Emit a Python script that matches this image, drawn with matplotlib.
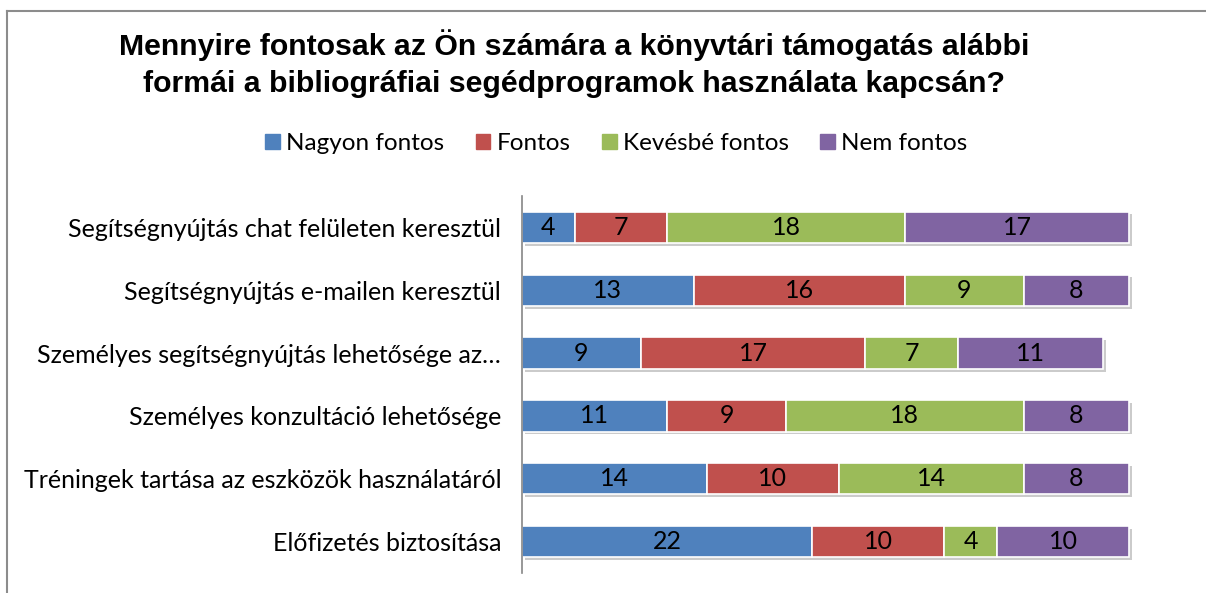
import matplotlib.pyplot as plt
import matplotlib.patheffects as pe
from matplotlib.lines import Line2D

categories = [
    "Segítségnyújtás chat felületen keresztül",
    "Segítségnyújtás e-mailen keresztül",
    "Személyes segítségnyújtás lehetősége az…",
    "Személyes konzultáció lehetősége",
    "Tréningek tartása az eszközök használatáról",
    "Előfizetés biztosítása",
]
series_names = ["Nagyon fontos", "Fontos", "Kevésbé fontos", "Nem fontos"]
nagyon_fontos = [4, 13, 9, 11, 14, 22]
fontos = [7, 16, 17, 9, 10, 10]
kevesbe_fontos = [18, 9, 7, 18, 14, 4]
nem_fontos = [17, 8, 11, 8, 8, 10]
colors = ["#4F81BD", "#C0504D", "#9BBB59", "#8064A2"]

font = "Lato"
fig = plt.figure(figsize=(12.06, 5.93), dpi=100)
ax = fig.add_axes([522 / 1206, 1 - 573 / 593, (1182 - 522) / 1206, (573 - 196) / 593])

ypos = list(range(len(categories)))
left = [0] * len(categories)
shadow = [pe.SimplePatchShadow(offset=(2, -2), shadow_rgbFace="#999999", alpha=0.5), pe.Normal()]
for name, vals, col in zip(series_names, [nagyon_fontos, fontos, kevesbe_fontos, nem_fontos], colors):
    bars = ax.barh(ypos, vals, left=left, height=0.5, color=col, edgecolor="white",
                   linewidth=1.2, label=name)
    for b in bars:
        b.set_path_effects(shadow)
    for y, v, l in zip(ypos, vals, left):
        ax.text(l + v / 2, y, str(v), ha="center", va="center", fontsize=18,
                family=font, color="black")
    left = [a + b for a, b in zip(left, vals)]

ax.set_xlim(0, 50)
ax.set_ylim(5.5, -0.5)
ax.set_yticks(ypos)
ax.set_yticklabels(categories, fontsize=18, family=font)
ax.tick_params(axis="y", length=0, pad=15)
ax.set_xticks([])
for s in ["top", "right", "bottom"]:
    ax.spines[s].set_visible(False)
ax.spines["left"].set_color("#868686")
ax.spines["left"].set_linewidth(1.2)

fig.text(0.476, 0.95, "Mennyire fontosak az Ön számára a könyvtári támogatás alábbi\n"
         "formái a bibliográfiai segédprogramok használata kapcsán?",
         ha="center", va="top", fontsize=21.8, fontweight="bold",
         family="Liberation Sans", linespacing=1.4)

handles = [plt.Rectangle((0, 0), 1, 1, color=c) for c in colors]
fig.legend(handles, series_names, loc="center", bbox_to_anchor=(0.511, 0.758), ncol=4,
           frameon=False, prop={"family": font, "size": 17.5}, handlelength=0.6,
           handleheight=0.6, handletextpad=0.25, columnspacing=1.3)

fig.add_artist(Line2D([7 / 1206, 7 / 1206], [0, 1 - 11 / 593], color="#8C8C8C", lw=1.5))
fig.add_artist(Line2D([7 / 1206, 1], [1 - 11 / 593, 1 - 11 / 593], color="#8C8C8C", lw=1.5))

fig.savefig("out.png", dpi=100)
